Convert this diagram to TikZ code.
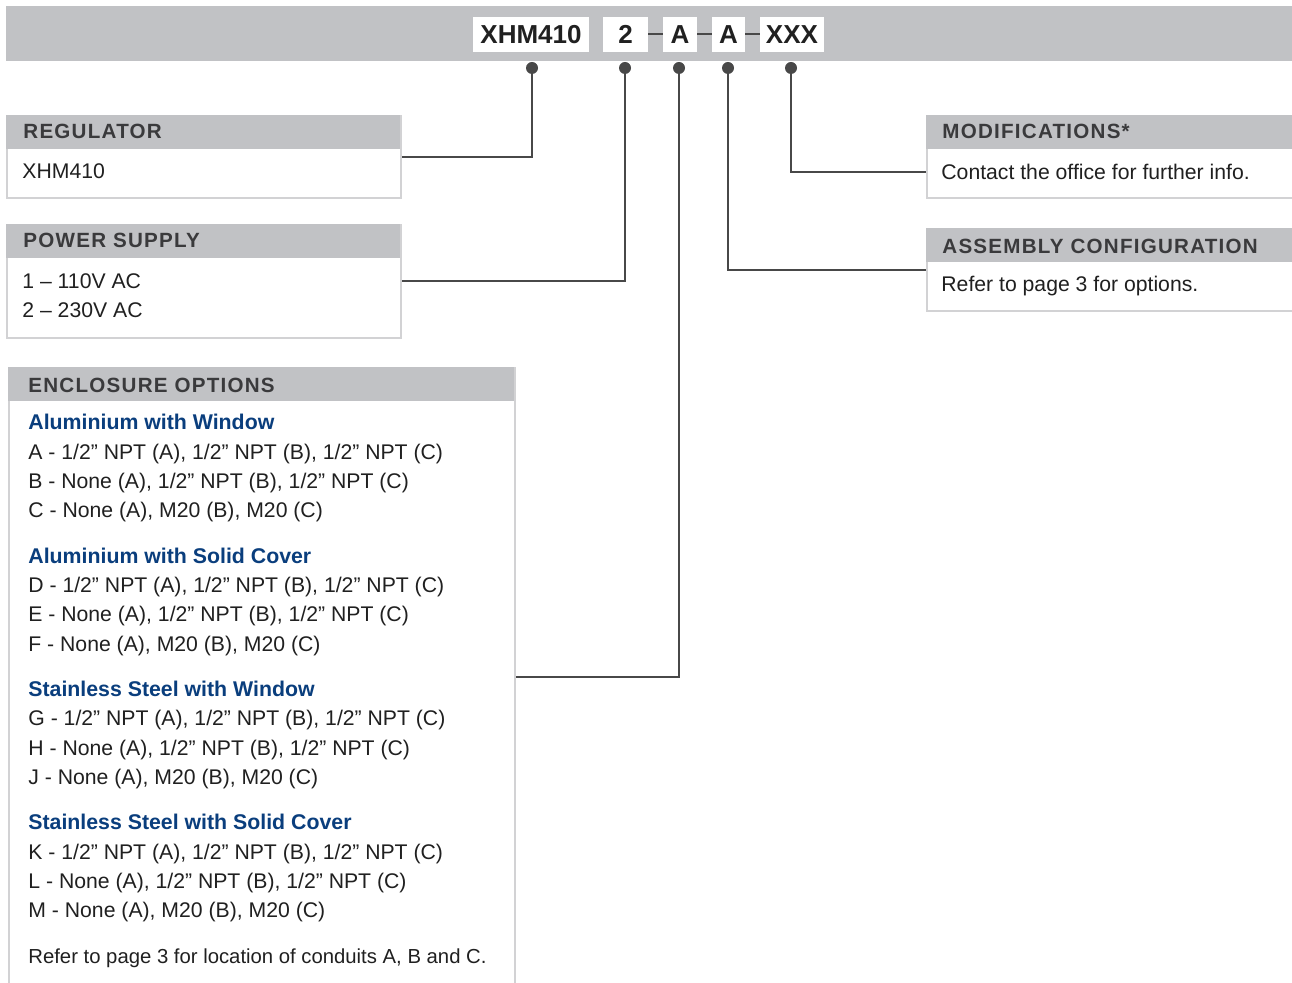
\documentclass[tikz,border=0pt]{standalone}
\usepackage{fontspec}
\setmainfont{Liberation Sans}
\newfontfamily\hdrfont[LetterSpace=6]{Liberation Sans}
\usetikzlibrary{positioning}

\definecolor{bargray}{RGB}{193,194,197}
\definecolor{hdrtext}{RGB}{58,58,60}
\definecolor{leadline}{RGB}{72,72,72}
\definecolor{frameline}{RGB}{210,210,212}
\definecolor{optblue}{RGB}{10,62,125}
\definecolor{bodytext}{RGB}{32,32,32}

\tikzset{
  codebox/.style={fill=white, inner sep=0pt, minimum height=17.5pt,
    font=\bfseries\fontsize{13}{15}\selectfont, text=bodytext},
  dot/.style={circle, fill=leadline, inner sep=0pt, minimum size=6pt},
  frame/.style={draw=frameline, line width=1pt, fill=white, inner sep=0pt, anchor=north west},
  hdr/.style={fill=bargray, inner sep=0pt, minimum height=17pt, anchor=north west},
  hdrlabel/.style={anchor=west, inner sep=0pt, text height=7.4pt, text depth=0pt,
    font=\hdrfont\bfseries\fontsize{10.3}{12}\selectfont, text=hdrtext},
  txt/.style={anchor=west, inner sep=0pt, text height=7.6pt, text depth=0pt,
    font=\fontsize{10.6}{12.6}\selectfont, text=bodytext},
  opt/.style={txt, font=\bfseries\fontsize{10.65}{12.6}\selectfont, text=optblue},
  lead/.style={draw=leadline, line width=1pt},
}

\begin{document}
\begin{tikzpicture}[x=0.5pt,y=-0.5pt]
  \useasboundingbox (0,0) rectangle (1292,983);
  % code bar
  \fill[bargray] (6,6) rectangle (1292,61);
  \node[codebox, minimum width=58pt] (cReg) at (531,34.5) {XHM410};
  \node[codebox, minimum width=22.5pt] (cPow) at (625.5,34.5) {2};
  \node[codebox, minimum width=17pt] (cEnc) at (680,34.5) {A};
  \node[codebox, minimum width=16.5pt] (cAsm) at (728.5,34.5) {A};
  \node[codebox, minimum width=32pt] (cMod) at (792,34.5) {XXX};
  \draw[lead] (cPow) -- (cEnc);
  \draw[lead] (cEnc) -- (cAsm);
  \draw[lead] (cAsm) -- (cMod);
  \node[dot] (dReg) at (532,68) {};
  \node[dot] (dPow) at (625,68) {};
  \node[dot] (dEnc) at (679,68) {};
  \node[dot] (dAsm) at (728,68) {};
  \node[dot] (dMod) at (791,68) {};

  % regulator
  \node[frame, minimum width=197pt, minimum height=41pt] (reg) at (6,115) {};
  \node[hdr, minimum width=197pt] (regH) at (reg.north west) {};
  \node[hdrlabel] (regT) at (23,131) {REGULATOR};
  \node[txt] (regB) at (22,171) {XHM410};

  % power supply
  \node[frame, minimum width=197pt, minimum height=56.5pt] (pow) at (6,224) {};
  \node[hdr, minimum width=197pt] (powH) at (pow.north west) {};
  \node[hdrlabel] (powT) at (23,240) {POWER SUPPLY};
  \node[txt] (powB1) at (22,281) {1 – 110V AC};
  \node[txt] (powB2) at (22,310) {2 – 230V AC};

  % modifications
  \node[frame, minimum width=183.5pt, minimum height=41pt] (mod) at (926,115) {};
  \node[hdr, minimum width=183.5pt] (modH) at (mod.north west) {};
  \node[hdrlabel] (modT) at (942,131) {MODIFICATIONS*};
  \node[txt] (modB) at (941,172) {Contact the office for further info.};

  % assembly configuration
  \node[frame, minimum width=183.5pt, minimum height=41pt] (asm) at (926,228) {};
  \node[hdr, minimum width=183.5pt] (asmH) at (asm.north west) {};
  \node[hdrlabel] (asmT) at (942,246) {ASSEMBLY CONFIGURATION};
  \node[txt] (asmB) at (941,284) {Refer to page 3 for options.};

  % enclosure options
  \node[frame, minimum width=253pt, minimum height=309pt] (enc) at (8,367) {};
  \node[hdr, minimum width=253pt] (encH) at (enc.north west) {};
  \node[hdrlabel] (encT) at (28,385) {ENCLOSURE OPTIONS};
  \node[opt] (encG1) at (28,422) {Aluminium with Window};
  \node[txt] (encA) at (28,452) {A - 1/2” NPT (A), 1/2” NPT (B), 1/2” NPT (C)};
  \node[txt] (encB) at (28,481) {B - None (A), 1/2” NPT (B), 1/2” NPT (C)};
  \node[txt] (encC) at (28,510) {C - None (A), M20 (B), M20 (C)};
  \node[opt] (encG2) at (28,556) {Aluminium with Solid Cover};
  \node[txt] (encD) at (28,585) {D - 1/2” NPT (A), 1/2” NPT (B), 1/2” NPT (C)};
  \node[txt] (encE) at (28,614) {E - None (A), 1/2” NPT (B), 1/2” NPT (C)};
  \node[txt] (encF) at (28,644) {F - None (A), M20 (B), M20 (C)};
  \node[opt] (encG3) at (28,689) {Stainless Steel with Window};
  \node[txt] (encG) at (28,718) {G - 1/2” NPT (A), 1/2” NPT (B), 1/2” NPT (C)};
  \node[txt] (encH2) at (28,748) {H - None (A), 1/2” NPT (B), 1/2” NPT (C)};
  \node[txt] (encJ) at (28,777) {J - None (A), M20 (B), M20 (C)};
  \node[opt] (encG4) at (28,822) {Stainless Steel with Solid Cover};
  \node[txt] (encK) at (28,852) {K - 1/2” NPT (A), 1/2” NPT (B), 1/2” NPT (C)};
  \node[txt] (encL) at (28,881) {L - None (A), 1/2” NPT (B), 1/2” NPT (C)};
  \node[txt] (encM) at (28,910) {M - None (A), M20 (B), M20 (C)};
  \node[txt, font=\fontsize{10.15}{12}\selectfont] (encN) at (28,956) {Refer to page 3 for location of conduits A, B and C.};

  % leaders
  \draw[lead] (dReg) |- (reg.east);
  \draw[lead] (dPow) |- (pow.east);
  \draw[lead] (dEnc) |- (enc.east);
  \draw[lead] (dAsm) |- (asm.west);
  \draw[lead] (dMod) |- (mod.west |- modB);
\end{tikzpicture}
\end{document}
